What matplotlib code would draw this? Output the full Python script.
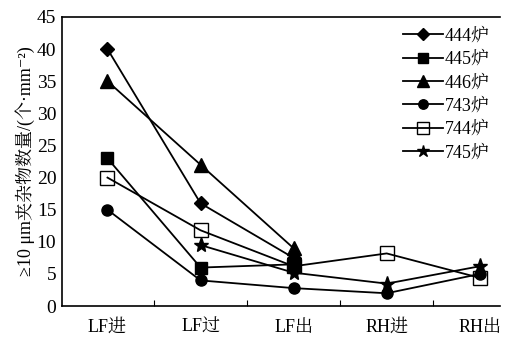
import numpy as np
import matplotlib.pyplot as plt
from matplotlib.ticker import FixedLocator, NullFormatter

plt.rcParams['font.family'] = ['Liberation Serif', 'Noto Serif CJK SC', 'Noto Sans CJK SC', 'DejaVu Sans']

stages = ['LF进', 'LF过', 'LF出', 'RH进', 'RH出']

# heat values, None = not measured
v444 = [40, 16, 7.5, None, None]
v445 = [23, 6, 6.5, None, None]
v446 = [35, 22, 9, None, None]
v743 = [15, 4, 2.8, 2, 5]
v744 = [20, 11.8, 6.2, 8.2, 4.4]
v745 = [None, 9.5, 5.2, 3.5, 6.2]

series = [
    ('444炉', v444, 'D', 'k', 7.5),
    ('445炉', v445, 's', 'k', 9),
    ('446炉', v446, '^', 'k', 10),
    ('743炉', v743, 'o', 'k', 8),
    ('744炉', v744, 's', 'none', 10),
    ('745炉', v745, '*', 'k', 11),
]

fig = plt.figure(figsize=(5.2, 3.39), dpi=100)
ax = fig.add_axes([0.119, 0.097, 0.843, 0.853])

x = np.arange(1, 6)
for name, vals, mk, fc, ms in series:
    xs = [xi for xi, v in zip(x, vals) if v is not None]
    ys = [v for v in vals if v is not None]
    ax.plot(xs, ys, color='k', lw=1.3, marker=mk, markersize=ms,
            markerfacecolor=fc, markeredgecolor='k', markeredgewidth=1.0, label=name)

ax.set_xlim(0.51, 5.22)
ax.set_ylim(0, 45)
ax.set_yticks(np.arange(0, 46, 5))
ax.xaxis.set_major_locator(FixedLocator([1.5, 2.5, 3.5, 4.5]))
ax.xaxis.set_major_formatter(NullFormatter())
ax.xaxis.set_minor_locator(FixedLocator(x))
ax.set_xticklabels(stages, minor=True)
ax.tick_params(axis='x', which='major', direction='in', length=4)
ax.tick_params(axis='x', which='minor', length=0, pad=9, labelsize=13)
ax.tick_params(axis='y', direction='in', length=0, labelsize=14, pad=4)
ax.spines['right'].set_visible(False)
for s in ['left', 'top', 'bottom']:
    ax.spines[s].set_linewidth(1.2)

ax.set_ylabel('≥10 μm夹杂物数量/(个·mm⁻²)', fontsize=13, labelpad=1)

ax.legend(loc='upper right', frameon=False, fontsize=13, handlelength=2.2,
          handletextpad=0.1, labelspacing=0.35, borderaxespad=0.2,
          markerscale=0.85, bbox_to_anchor=(1.0, 1.0))

fig.savefig('out.png', dpi=100)
